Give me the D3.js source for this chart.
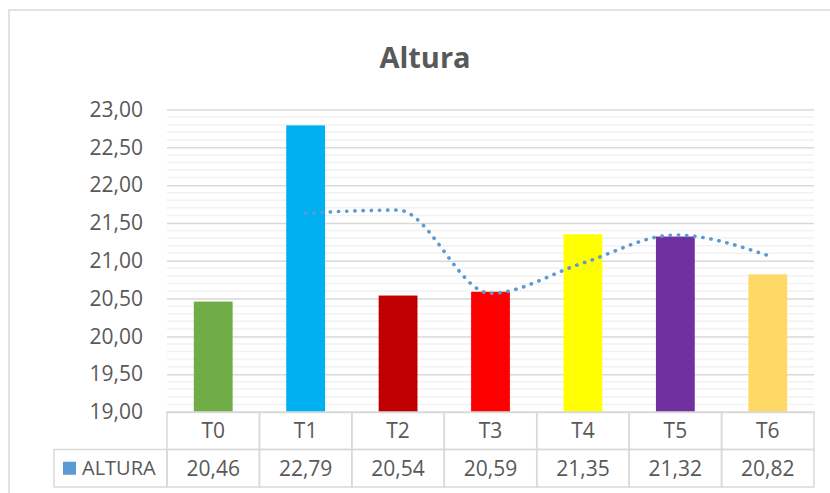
<!DOCTYPE html>
<html>
<head>
<meta charset="utf-8">
<script src="https://cdn.jsdelivr.net/npm/d3@7"></script>
<style>
  html, body { margin: 0; padding: 0; background: #fff; }
  text { font-family: "Open Sans", "Liberation Sans", sans-serif; fill: #595959; }
</style>
</head>
<body>
<div id="chart"></div>
<script>
// data
const categories = ["T0", "T1", "T2", "T3", "T4", "T5", "T6"];
const alturas = [20.46, 22.79, 20.54, 20.59, 21.35, 21.32, 20.82];
const barColors = ["#70AD47", "#00B0F0", "#C00000", "#FF0000", "#FFFF00", "#7030A0", "#FFD966"];
// 2-period moving average trendline, starts at T1
const trendCategories = ["T1", "T2", "T3", "T4", "T5", "T6"];
const trendValues = [21.63, 21.67, 20.57, 20.97, 21.34, 21.07];
const seriesName = "ALTURA";

const width = 830, height = 493;
const margin = { top: 109.5, left: 167, right: 16, bottom: 81 };
const plotBottom = height - margin.bottom;   // 412
const plotRight = width - margin.right;     // 814
const rowH = 37.5;

const fmt = d3.formatLocale({ decimal: ",", thousands: ".", grouping: [3], currency: ["", ""] }).format(".2f");

const svg = d3.select("#chart").append("svg")
  .attr("width", width)
  .attr("height", height);

// chart area border
svg.append("rect")
  .attr("x", 9).attr("y", 10)
  .attr("width", 840).attr("height", 500)
  .attr("fill", "#fff")
  .attr("stroke", "#d9d9d9")
  .attr("stroke-width", 1.5);

svg.append("text")
  .attr("x", 425).attr("y", 68)
  .attr("text-anchor", "middle")
  .attr("font-size", 29)
  .attr("font-weight", "bold")
  .text("Altura");

const x = d3.scaleBand().domain(categories).range([margin.left, plotRight]).padding(0);
const y = d3.scaleLinear().domain([19, 23]).range([plotBottom, margin.top]);

// minor gridlines
svg.append("g")
  .selectAll("line")
  .data(d3.range(19, 23.001, 0.1).filter(v => Math.abs(v * 2 - Math.round(v * 2)) > 0.01))
  .join("line")
  .attr("x1", margin.left).attr("x2", plotRight)
  .attr("y1", d => y(d)).attr("y2", d => y(d))
  .attr("stroke", "#f2f2f2")
  .attr("stroke-width", 1.5);

// major gridlines + labels
const yAxis = d3.axisLeft(y).tickValues(d3.range(19, 23.001, 0.5)).tickFormat(fmt)
  .tickSize(-(plotRight - margin.left)).tickPadding(24);
const gy = svg.append("g")
  .attr("transform", `translate(${margin.left},0)`)
  .call(yAxis);
gy.select(".domain").remove();
gy.selectAll(".tick line").attr("stroke", "#d9d9d9").attr("stroke-width", 1.5);
gy.selectAll(".tick text")
  .attr("font-size", 21)
  .attr("fill", "#595959")
  .attr("font-family", "Open Sans, sans-serif");

// bars
const barW = x.bandwidth() * 0.42;
svg.append("g")
  .selectAll("rect")
  .data(categories)
  .join("rect")
  .attr("x", d => x(d) + (x.bandwidth() - barW) / 2)
  .attr("width", barW)
  .attr("y", (d, i) => y(alturas[i]))
  .attr("height", (d, i) => plotBottom - y(alturas[i]))
  .attr("fill", (d, i) => barColors[i]);

// trendline
const line = d3.line()
  .x((d, i) => x(trendCategories[i]) + x.bandwidth() / 2)
  .y(d => y(d))
  .curve(d3.curveMonotoneX);
svg.append("path")
  .attr("d", line(trendValues))
  .attr("fill", "none")
  .attr("stroke", "#5B9BD5")
  .attr("stroke-width", 3.6)
  .attr("stroke-linecap", "round")
  .attr("stroke-dasharray", "0.3,7.9");

// data table
const table = svg.append("g");
const cellStroke = "#d9d9d9";
// header row (categories)
table.selectAll("rect.hdr")
  .data(categories)
  .join("rect")
  .attr("class", "hdr")
  .attr("x", d => x(d)).attr("y", plotBottom)
  .attr("width", x.bandwidth()).attr("height", rowH)
  .attr("fill", "none").attr("stroke", cellStroke).attr("stroke-width", 1.5);
table.selectAll("text.hdr")
  .data(categories)
  .join("text")
  .attr("class", "hdr")
  .attr("x", d => x(d) + x.bandwidth() / 2)
  .attr("y", plotBottom + rowH / 2)
  .attr("dy", "0.35em")
  .attr("text-anchor", "middle")
  .attr("font-size", 21)
  .text(d => d);
// value row
table.selectAll("rect.val")
  .data(categories)
  .join("rect")
  .attr("class", "val")
  .attr("x", d => x(d)).attr("y", plotBottom + rowH)
  .attr("width", x.bandwidth()).attr("height", rowH)
  .attr("fill", "none").attr("stroke", cellStroke).attr("stroke-width", 1.5);
table.selectAll("text.val")
  .data(alturas)
  .join("text")
  .attr("class", "val")
  .attr("x", (d, i) => x(categories[i]) + x.bandwidth() / 2)
  .attr("y", plotBottom + rowH * 1.5)
  .attr("dy", "0.35em")
  .attr("text-anchor", "middle")
  .attr("font-size", 21)
  .text(d => fmt(d));
// legend cell
table.append("rect")
  .attr("x", 54).attr("y", plotBottom + rowH)
  .attr("width", margin.left - 54).attr("height", rowH)
  .attr("fill", "none").attr("stroke", cellStroke).attr("stroke-width", 1.5);
table.append("rect")
  .attr("x", 63).attr("y", plotBottom + rowH * 1.5 - 6.5)
  .attr("width", 13).attr("height", 13)
  .attr("fill", "#5B9BD5");
table.append("text")
  .attr("x", 82).attr("y", plotBottom + rowH * 1.5)
  .attr("dy", "0.35em")
  .attr("font-size", 20)
  .text(seriesName);
</script>
</body>
</html>
